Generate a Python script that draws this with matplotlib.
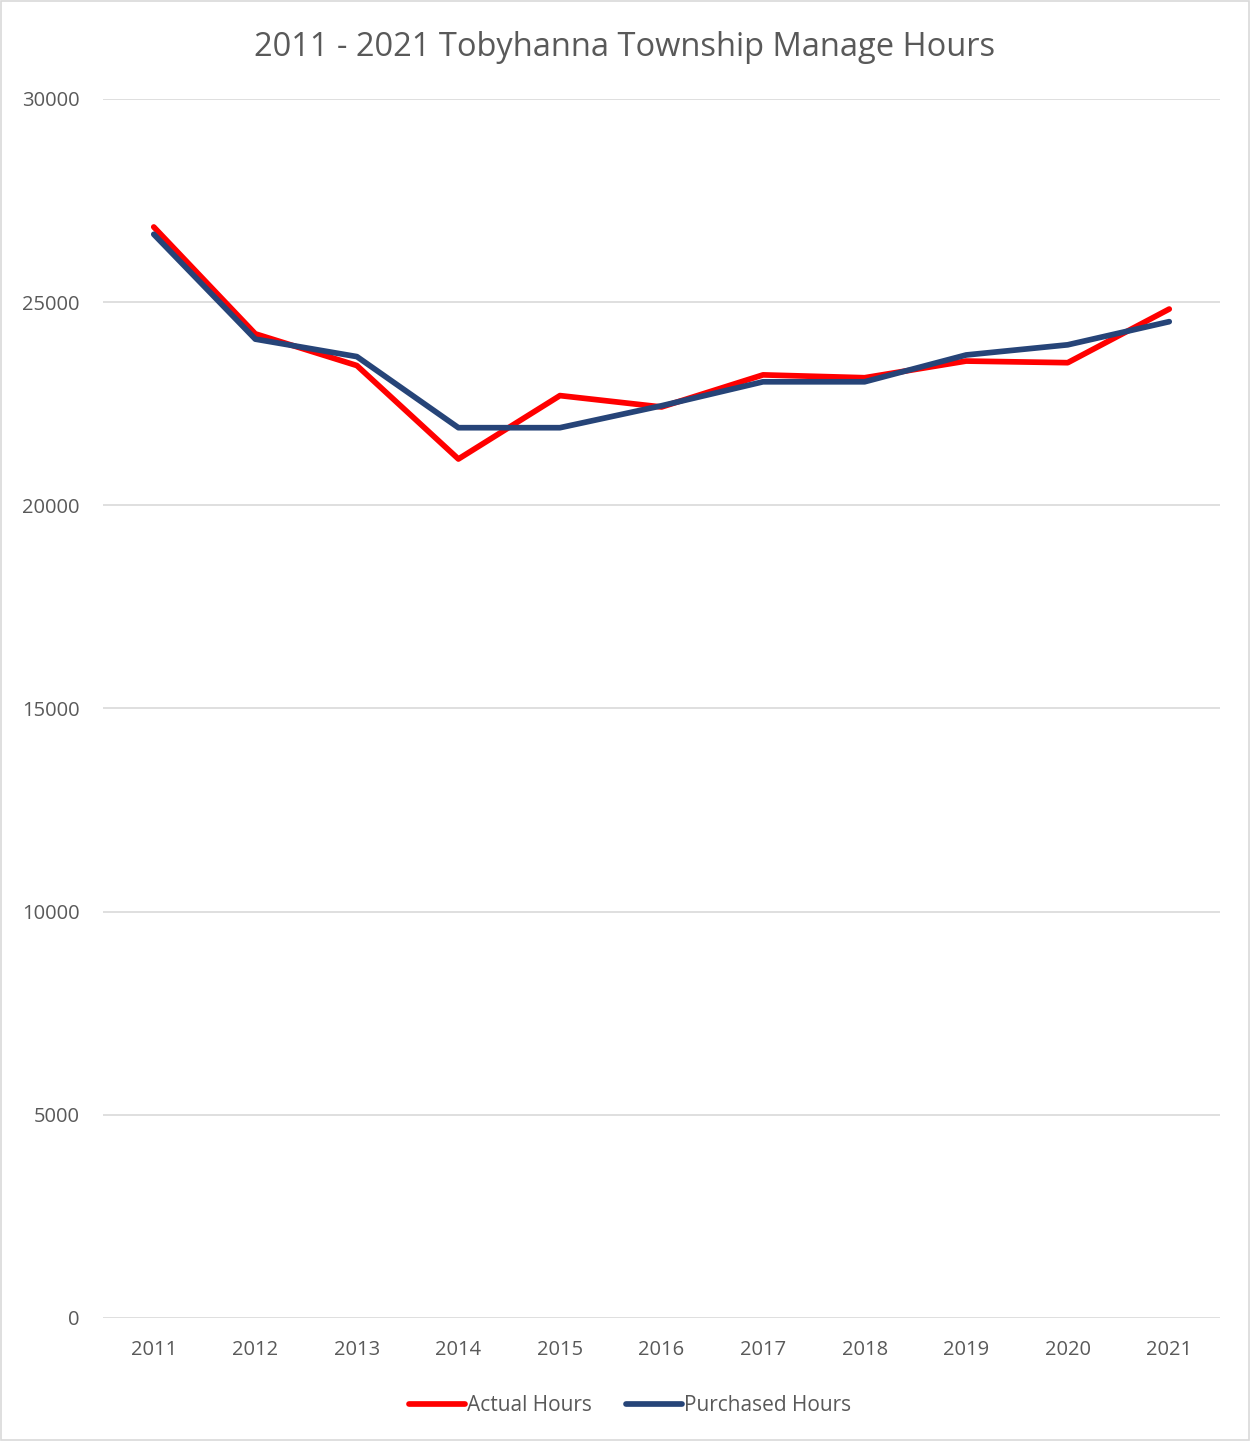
import matplotlib.pyplot as plt
from matplotlib.patches import Rectangle

# data
years = ["2011", "2012", "2013", "2014", "2015", "2016", "2017", "2018", "2019", "2020", "2021"]
actual_hours = [26850, 24220, 23440, 21140, 22700, 22420, 23210, 23140, 23550, 23510, 24830]
purchased_hours = [26670, 24090, 23660, 21910, 21910, 22450, 23040, 23040, 23700, 23950, 24520]
y_ticks = [0, 5000, 10000, 15000, 20000, 25000, 30000]

plt.rcParams['font.family'] = ['Open Sans', 'DejaVu Sans']
text_color = '#595959'

fig = plt.figure(figsize=(12.5, 14.41), dpi=100)
ax = fig.add_axes([0.0824, 0.0854, 0.8936, 0.8459])

x = range(len(years))
ax.plot(x, actual_hours, color='#FF0000', linewidth=4.1, solid_capstyle='round', label='Actual Hours', zorder=3)
ax.plot(x, purchased_hours, color='#264478', linewidth=4.1, solid_capstyle='round', label='Purchased Hours', zorder=4)

ax.set_xlim(-0.5, len(years) - 0.5)
ax.set_ylim(0, 30000)
ax.set_yticks(y_ticks)
ax.set_yticklabels([str(t) for t in y_ticks])
ax.set_xticks(list(x))
ax.set_xticklabels(years)
ax.grid(axis='y', color='#D9D9D9', linewidth=1.2)
ax.set_axisbelow(True)
for s in ax.spines.values():
    s.set_visible(False)
ax.tick_params(axis='both', length=0, labelsize=14.5, colors=text_color)
ax.tick_params(axis='y', pad=17)
ax.tick_params(axis='x', pad=16)

fig.suptitle("2011 - 2021 Tobyhanna Township Manage Hours", y=0.9785, fontsize=23.5, color=text_color)

leg = fig.legend(loc='center', bbox_to_anchor=(0.504, 0.0245), ncol=2, frameon=False,
                 fontsize=15, handlelength=2.7, handletextpad=0.1, columnspacing=1.6)
for t in leg.get_texts():
    t.set_color(text_color)

fig.patches.append(Rectangle((0.0008, 0.0008), 0.9984, 0.9984, transform=fig.transFigure,
                             fill=False, edgecolor='#D9D9D9', linewidth=1.2))

plt.savefig("out.png")
